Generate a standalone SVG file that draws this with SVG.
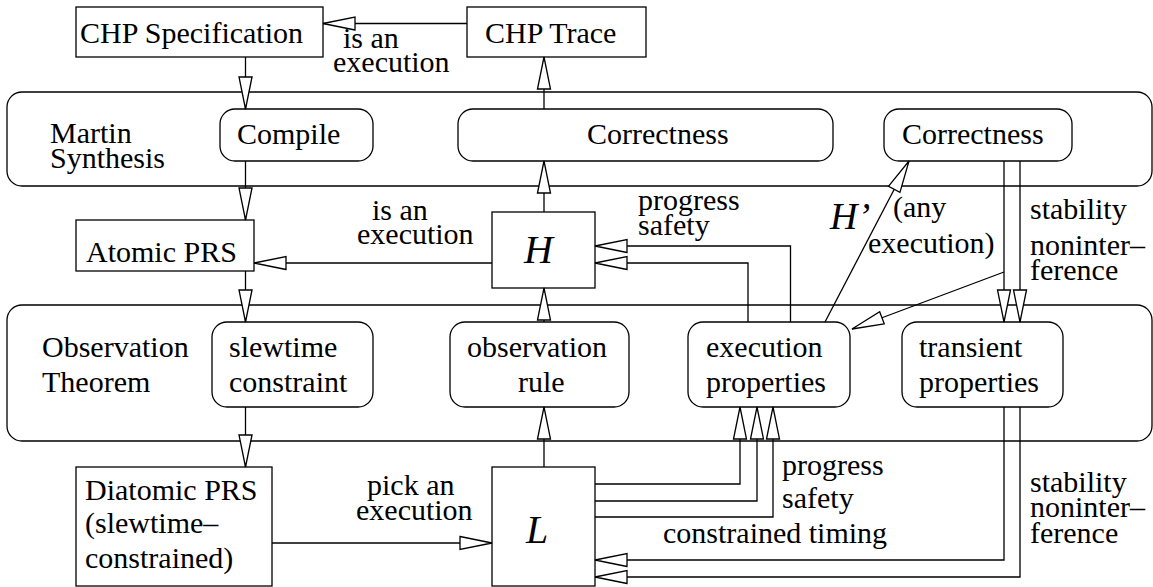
<svg xmlns="http://www.w3.org/2000/svg" width="1153" height="587" viewBox="0 0 1153 587">
  <style>
    .box { fill: none; stroke: #000; stroke-width: 1.3; }
    .wire { fill: none; stroke: #000; stroke-width: 1.3; marker-end: url(#open); }
    text { font-family: "Liberation Serif", "Times New Roman", serif; font-size: 30px; fill: #000; }
    text.sym { font-style: italic; font-size: 40px; }
    text.prime { font-style: italic; font-size: 38px; }
  </style>
  <defs>
    <marker id="open" markerUnits="userSpaceOnUse" markerWidth="36" markerHeight="18" refX="32" refY="7" orient="auto" overflow="visible">
      <path d="M0,0.5 L32,7 L0,13.5 Z" fill="#fff" stroke="#000" stroke-width="1.3"/>
    </marker>
  </defs>
  <rect width="1153" height="587" fill="#fff"/>

  <!-- layer containers -->
  <g id="martin-synthesis">
    <rect class="box" x="7" y="92" width="1145" height="94" rx="15"/>
    <text x="50" y="143">Martin</text>
    <text x="50" y="168">Synthesis</text>
  </g>
  <g id="observation-theorem">
    <rect class="box" x="7" y="305" width="1145" height="136" rx="15"/>
    <text x="42" y="357">Observation</text>
    <text x="42" y="392">Theorem</text>
  </g>

  <!-- nodes -->
  <g id="chp-spec">
    <rect class="box" x="76" y="7" width="247" height="50"/>
    <text x="80" y="43">CHP Specification</text>
  </g>
  <g id="chp-trace">
    <rect class="box" x="467" y="7" width="179" height="50"/>
    <text x="485" y="43">CHP Trace</text>
  </g>
  <g id="compile">
    <rect class="box" x="220" y="109" width="153" height="52" rx="15"/>
    <text x="237" y="144">Compile</text>
  </g>
  <g id="correctness-main">
    <rect class="box" x="458" y="109" width="375" height="52" rx="15"/>
    <text x="587" y="144">Correctness</text>
  </g>
  <g id="correctness-side">
    <rect class="box" x="884" y="109" width="188" height="52" rx="15"/>
    <text x="902" y="144">Correctness</text>
  </g>
  <g id="atomic-prs">
    <rect class="box" x="76" y="220" width="178" height="51"/>
    <text x="86" y="262">Atomic PRS</text>
  </g>
  <g id="h">
    <rect class="box" x="492" y="212" width="103" height="76"/>
    <text class="sym" x="524" y="263">H</text>
  </g>
  <g id="slewtime-constraint">
    <rect class="box" x="212" y="322" width="161" height="85" rx="15"/>
    <text x="229" y="357">slewtime</text>
    <text x="229" y="392">constraint</text>
  </g>
  <g id="observation-rule">
    <rect class="box" x="450" y="322" width="179" height="85" rx="15"/>
    <text x="467" y="357">observation</text>
    <text x="518" y="392">rule</text>
  </g>
  <g id="execution-properties">
    <rect class="box" x="688" y="322" width="162" height="85" rx="15"/>
    <text x="706" y="357">execution</text>
    <text x="706" y="392">properties</text>
  </g>
  <g id="transient-properties">
    <rect class="box" x="902" y="322" width="161" height="85" rx="15"/>
    <text x="919" y="357">transient</text>
    <text x="919" y="392">properties</text>
  </g>
  <g id="diatomic-prs">
    <rect class="box" x="76" y="467" width="196" height="119"/>
    <text x="85" y="500">Diatomic PRS</text>
    <text x="85" y="533">(slewtime–</text>
    <text x="85" y="568">constrained)</text>
  </g>
  <g id="l">
    <rect class="box" x="492" y="467" width="103" height="119"/>
    <text class="sym" x="526" y="543">L</text>
  </g>

  <!-- connectors -->
  <g id="connectors">
    <path class="wire" d="M467,23.5 H323"/>
    <path class="wire" d="M245.5,57 V109"/>
    <path class="wire" d="M245.5,161 V220"/>
    <path class="wire" d="M245.5,271 V322"/>
    <path class="wire" d="M245.5,407 V467"/>
    <path class="wire" d="M272,543 H492"/>
    <path class="wire" d="M492,263 H254"/>
    <path class="wire" d="M544,212 V161"/>
    <path class="wire" d="M544,109 V57"/>
    <path class="wire" d="M544,322 V288"/>
    <path class="wire" d="M544,467 V407"/>
    <path class="wire" d="M790.5,322 V246 H595"/>
    <path class="wire" d="M748,322 V263 H595"/>
    <path class="wire" d="M825,322 L909,161"/>
    <path class="wire" d="M1004,161 V322"/>
    <path class="wire" d="M1020,161 V322"/>
    <path class="wire" d="M1004,272 L852,329"/>
    <path class="wire" d="M595,484 H740 V407"/>
    <path class="wire" d="M595,501 H757 V407"/>
    <path class="wire" d="M595,517 H773 V407"/>
    <path class="wire" d="M1004,407 V560 H595"/>
    <path class="wire" d="M1020,407 V577 H595"/>
  </g>

  <!-- connector labels -->
  <g id="labels">
    <text x="343" y="48">is an</text>
    <text x="333" y="72">execution</text>
    <text x="372" y="220">is an</text>
    <text x="357" y="244">execution</text>
    <text x="638" y="210">progress</text>
    <text x="638" y="235">safety</text>
    <text class="prime" x="830" y="229">H’</text>
    <text x="893" y="217">(any</text>
    <text x="868" y="253">execution)</text>
    <text x="1030" y="219">stability</text>
    <text x="1030" y="255">noninter–</text>
    <text x="1030" y="280">ference</text>
    <text x="782" y="475">progress</text>
    <text x="782" y="508">safety</text>
    <text x="663" y="543">constrained timing</text>
    <text x="367" y="495">pick an</text>
    <text x="356" y="520">execution</text>
    <text x="1030" y="492">stability</text>
    <text x="1030" y="517">noninter–</text>
    <text x="1030" y="543">ference</text>
  </g>
</svg>
